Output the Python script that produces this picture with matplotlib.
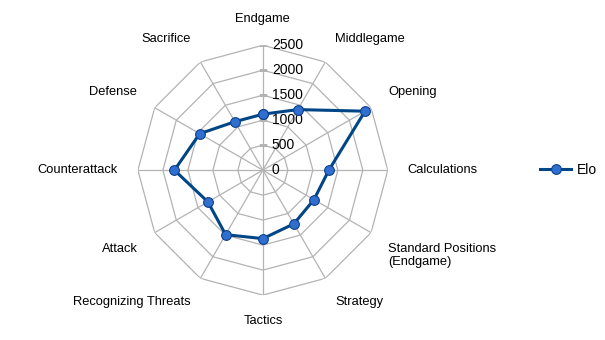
import numpy as np
import matplotlib.pyplot as plt

skills = ['Endgame', 'Middlegame', 'Opening', 'Calculations',
          'Standard Positions\n(Endgame)', 'Strategy', 'Tactics',
          'Recognizing Threats', 'Attack', 'Counterattack', 'Defense', 'Sacrifice']
elo = [1120, 1400, 2360, 1320, 1180, 1240, 1370, 1490, 1270, 1770, 1460, 1120]
rings = [500, 1000, 1500, 2000, 2500]

plt.rcParams['font.family'] = ['Liberation Sans', 'DejaVu Sans']
plt.rcParams['font.size'] = 9.3

grid_col = '#b3b3b3'
line_col = '#004586'

fig = plt.figure(figsize=(6.05, 3.4), dpi=100)
ax = fig.add_axes([0.228, 0.132, 0.413, 0.735], polar=True)
ax.set_theta_zero_location('N')
ax.set_theta_direction(-1)
ax.set_ylim(0, 2500)
ax.axis('off')

n = len(skills)
angles = np.arange(n) * 2 * np.pi / n
closed = np.append(angles, angles[0])

# polygon grid + spokes
for r in rings:
    ax.plot(closed, [r] * (n + 1), color=grid_col, lw=0.9, zorder=1)
for a in angles:
    ax.plot([a, a], [0, rings[-1]], color=grid_col, lw=0.9, zorder=1)
ax.plot([0] * len(rings), rings, ls='none', marker='_', ms=6, mew=0.9,
        color=grid_col, zorder=1)

for r in [0] + rings:
    ax.annotate(str(r), xy=(0, r), xytext=(6.5, 0), textcoords='offset points',
                ha='left', va='center', fontsize=10, color='black')

# category labels around the outside
for a, name in zip(angles, skills):
    s, c = np.sin(a), np.cos(a)
    ha = 'center' if abs(s) < 0.1 else ('left' if s > 0 else 'right')
    va = 'center' if abs(c) < 0.1 else ('bottom' if c > 0 else 'top')
    ax.text(a, 2900, name, ha=ha, va=va, multialignment='left')

vals = elo + elo[:1]
ln, = ax.plot(closed, vals, color=line_col, lw=2.2, marker='o', ms=7,
              mfc='#2f6fd0', mec='#0e3f8c', mew=0.8, zorder=3, label='Elo')

fig.legend(handles=[ln], loc='center left', bbox_to_anchor=(0.893, 0.5),
           frameon=False, handlelength=2.2, handletextpad=0.4,
           borderpad=0, borderaxespad=0, fontsize=10)

fig.savefig('out.png', dpi=100)
